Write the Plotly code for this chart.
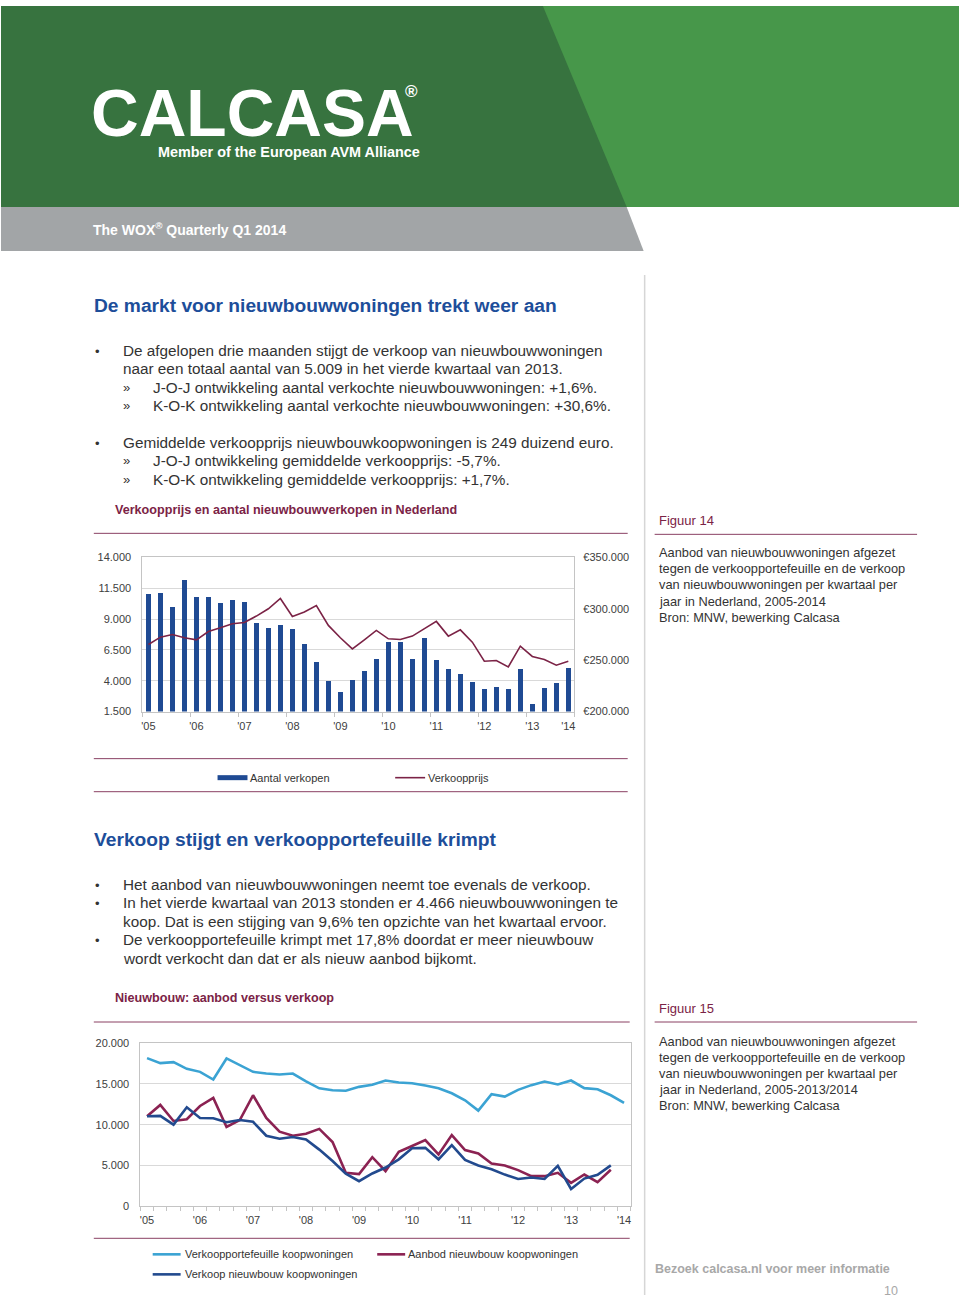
import plotly.graph_objects as go

W, H = 960, 1301
# the photographed page shows a small vertical offset/compression; compensate for it
Y_OFF, Y_SCALE = 6.4, 0.9894
def X(px): return px / W
def Y(py): return 1 - ((py - Y_OFF) / Y_SCALE) / H

FONT = "Liberation Sans, Arial, sans-serif"

# ---------------- data ----------------
year_labels = ["'05", "'06", "'07", "'08", "'09", "'10", "'11", "'12", "'13", "'14"]

# aantal verkopen per kwartaal, 2005 K1 .. 2013 K4
verkopen = [11030, 11080, 10000, 12130, 10810, 10780, 10300, 10560,
            10350, 8640, 8270, 8480, 8190, 6940, 5540, 3990,
            3070, 4020, 4750, 5750, 7100, 7160, 5750, 7480,
            5670, 4990, 4530, 3880, 3340, 3530, 3340, 4960,
            2120, 3390, 3850, 5009]

# gemiddelde verkoopprijs, 2005 K1 .. 2013 K4
verkoopprijs = [265300, 272400, 275000, 271800, 269800, 277900, 281500, 285400,
                286700, 292900, 300000, 310000, 292500, 296800, 303200, 283800,
                271800, 261000, 269800, 278900, 270800, 270100, 273400, 280500,
                287700, 273400, 279500, 267500, 249000, 249700, 243500, 263600,
                253600, 250600, 245100, 249000]

# verkoopportefeuille koopwoningen, 2005 K1 .. 2014 K1
portefeuille = [18150, 17540, 17660, 16840, 16470, 15530, 18110, 17290,
                16470, 16270, 16150, 16260, 15300, 14450, 14220, 14160,
                14630, 14880, 15410, 15160, 15080, 14790, 14470, 13850,
                12990, 11720, 13730, 13440, 14260, 14840, 15290, 14920,
                15410, 14470, 14340, 13600, 12660]

# aanbod nieuwbouw koopwoningen, 2005 K1 .. 2013 K4
aanbod = [11020, 12420, 10450, 10660, 12290, 13280, 9710, 10570,
          13600, 10820, 9140, 8650, 8880, 9480, 7870, 4100,
          3950, 6020, 4300, 6680, 7380, 8110, 6350, 8730,
          6890, 6480, 5250, 5000, 4430, 3690, 3690, 4100,
          2870, 3890, 2950, 4466]

left1_vals = [1500, 4000, 6500, 9000, 11500, 14000]
left1_text = ["1.500", "4.000", "6.500", "9.000", "11.500", "14.000"]
right1_vals = [200000, 250000, 300000, 350000]
right1_text = ["€200.000", "€250.000", "€300.000", "€350.000"]
left2_vals = [0, 5000, 10000, 15000, 20000]
left2_text = ["0", "5.000", "10.000", "15.000", "20.000"]

# ---------------- colours ----------------
BAR_BLUE = "#1F4A93"
PURPLE = "#7B2346"
LIGHT_BLUE = "#3BA3D3"
RED = "#8B2252"
DARK_BLUE = "#224A8E"
TXT = "#333333"
HEAD_BLUE = "#1D4E9A"
GRID = "#D9D9D9"
BORDER = "#C4C4C4"

x1 = [i + 0.5 for i in range(len(verkopen))]
x2 = [i + 0.5 for i in range(len(portefeuille))]

fig = go.Figure()
fig.add_trace(go.Bar(x=x1, y=verkopen, width=0.45, marker=dict(color=BAR_BLUE, line=dict(width=0)),
                     name="Aantal verkopen", xaxis="x", yaxis="y"))
fig.add_trace(go.Scatter(x=x1, y=verkoopprijs, mode="lines", line=dict(color=PURPLE, width=1.6),
                         name="Verkoopprijs", xaxis="x", yaxis="y2"))
fig.add_trace(go.Scatter(x=x2, y=portefeuille, mode="lines", line=dict(color=LIGHT_BLUE, width=2.6),
                         name="Verkoopportefeuille koopwoningen", xaxis="x2", yaxis="y3"))
fig.add_trace(go.Scatter(x=x2[:len(aanbod)], y=aanbod, mode="lines", line=dict(color=RED, width=2.6),
                         name="Aanbod nieuwbouw koopwoningen", xaxis="x2", yaxis="y3"))
fig.add_trace(go.Scatter(x=x2[:len(verkopen)], y=verkopen, mode="lines", line=dict(color=DARK_BLUE, width=2.6),
                         name="Verkoop nieuwbouw koopwoningen", xaxis="x2", yaxis="y3"))

tickfont = dict(family=FONT, size=11, color="#404040")

fig.update_layout(
    width=W, height=H, margin=dict(l=0, r=0, t=0, b=0),
    paper_bgcolor="white", plot_bgcolor="white", showlegend=False,
    font=dict(family=FONT, color=TXT),
    bargap=0,
    xaxis=dict(domain=[X(141.7), X(574.5)], range=[0, 36], anchor="y",
               tickvals=[0.5, 4.5, 8.5, 12.5, 16.5, 20.5, 24.5, 28.5, 32.5, 35.5],
               ticktext=year_labels, ticks="", showgrid=False, zeroline=False,
               showline=True, mirror=True, linecolor=BORDER, linewidth=1,
               minor=dict(tickvals=list(range(0, 37, 4)), ticks="outside", ticklen=4,
                          tickcolor=BORDER, showgrid=False),
               tickfont=tickfont, ticklabelstandoff=4),
    yaxis=dict(domain=[Y(711), Y(557)], range=[1500, 14000], anchor="x",
               tickvals=left1_vals, ticktext=left1_text, ticks="",
               showgrid=True, gridcolor=GRID, zeroline=False,
               showline=True, mirror=True, linecolor=BORDER, linewidth=1,
               tickfont=tickfont, ticklabelstandoff=8),
    yaxis2=dict(overlaying="y", side="right", anchor="x", range=[200000, 350000],
                tickvals=right1_vals, ticktext=right1_text, ticks="",
                showgrid=False, zeroline=False, showline=False,
                tickfont=tickfont, ticklabelstandoff=8),
    xaxis2=dict(domain=[X(139.7), X(631)], range=[0, 37], anchor="y3",
                tickvals=[0.5 + 4 * k for k in range(10)], ticktext=year_labels,
                ticks="", showgrid=False, zeroline=False,
                showline=True, mirror=True, linecolor=BORDER, linewidth=1,
                minor=dict(tickvals=list(range(0, 38)), ticks="outside", ticklen=4,
                           tickcolor=BORDER, showgrid=False),
                tickfont=tickfont, ticklabelstandoff=4),
    yaxis3=dict(domain=[Y(1205), Y(1042)], range=[0, 20000], anchor="x2",
                tickvals=left2_vals, ticktext=left2_text, ticks="",
                showgrid=True, gridcolor=GRID, zeroline=False,
                showline=True, mirror=True, linecolor=BORDER, linewidth=1,
                tickfont=tickfont, ticklabelstandoff=8),
)

shapes = []
def poly(pts, color):
    d = "M " + " L ".join(f"{X(px):.5f},{min(1.0, Y(py)):.5f}" for px, py in pts) + " Z"
    shapes.append(dict(type="path", path=d, xref="paper", yref="paper",
                       fillcolor=color, line=dict(width=0), layer="below"))
def hline(x0, x1_, y, color, width=1):
    shapes.append(dict(type="line", xref="paper", yref="paper", x0=X(x0), x1=X(x1_),
                       y0=Y(y), y1=Y(y), line=dict(color=color, width=width)))
def vline(x, y0, y1_, color, width=1):
    shapes.append(dict(type="line", xref="paper", yref="paper", x0=X(x), x1=X(x),
                       y0=Y(y0), y1=max(0.0, Y(y1_)), line=dict(color=color, width=width)))

# header (diagonal kept straight across the top edge)
poly([(0, 0), (960, 0), (960, 207), (0, 207)], "#37733F")
poly([(543, 0), (960, 0), (960, 207), (627, 207)], "#47974A")
poly([(0, 207), (627, 207), (644, 251), (0, 251)], "#A2A5A7")

# divider
vline(645, 275, 1320, "#D6D6D6", 1.5)

LINE_C = "#8A4063"
hline(93, 628, 533, LINE_C, 1)
hline(655, 918, 534, LINE_C, 1)
hline(93, 628, 758, LINE_C, 1)
hline(93, 628, 791, LINE_C, 1)
hline(93, 630, 1021, LINE_C, 1)
hline(655, 918, 1021, LINE_C, 1)
hline(93, 630, 1237, LINE_C, 1)

# legend swatches
shapes.append(dict(type="rect", xref="paper", yref="paper", x0=X(217), x1=X(247),
                   y0=Y(779.5), y1=Y(774.5), fillcolor=BAR_BLUE, line=dict(width=0)))
hline(395, 425, 777, PURPLE, 1.6)
hline(152, 180, 1253, LIGHT_BLUE, 2.6)
hline(377, 405, 1253, RED, 2.6)
hline(152, 180, 1273, DARK_BLUE, 2.6)

annotations = []
def txt(px, py, s, size, color=TXT, bold=False, xanchor="left"):
    if bold:
        s = f"<b>{s}</b>"
    annotations.append(dict(text=s, x=X(px), y=Y(py), xref="paper", yref="paper",
                            xanchor=xanchor, yanchor="middle", showarrow=False,
                            font=dict(family=FONT, size=size, color=color), borderpad=0))

# header texts
txt(89, 113, "CALCASA", 66, "white", bold=True)
txt(404, 92, "®", 17, "white", bold=True)
txt(156, 152, "Member of the European AVM Alliance", 14.4, "white", bold=True)
txt(91, 229, "The WOX<sup>®</sup> Quarterly Q1 2014", 14, "white", bold=True)

# section 1
txt(92, 305, "De markt voor nieuwbouwwoningen trekt weer aan", 19.2, HEAD_BLUE, bold=True)
BS = 15.3
txt(93, 351, "•", 13)
txt(121, 350, "De afgelopen drie maanden stijgt de verkoop van nieuwbouwwoningen", BS)
txt(121, 368, "naar een totaal aantal van 5.009 in het vierde kwartaal van 2013.", BS)
txt(121, 387, "»", 13)
txt(151, 387, "J-O-J ontwikkeling aantal verkochte nieuwbouwwoningen: +1,6%.", BS)
txt(121, 405, "»", 13)
txt(151, 405, "K-O-K ontwikkeling aantal verkochte nieuwbouwwoningen: +30,6%.", BS)
txt(93, 443, "•", 13)
txt(121, 442, "Gemiddelde verkoopprijs nieuwbouwkoopwoningen is 249 duizend euro.", BS)
txt(121, 460, "»", 13)
txt(151, 460, "J-O-J ontwikkeling gemiddelde verkoopprijs: -5,7%.", BS)
txt(121, 479, "»", 13)
txt(151, 479, "K-O-K ontwikkeling gemiddelde verkoopprijs: +1,7%.", BS)

txt(113, 510, "Verkoopprijs en aantal nieuwbouwverkopen in Nederland", 12.6, PURPLE, bold=True)
txt(658, 520, "Figuur 14", 13, PURPLE)
side1 = ["Aanbod van nieuwbouwwoningen afgezet",
         "tegen de verkoopportefeuille en de verkoop",
         "van nieuwbouwwoningen per kwartaal per",
         "jaar in Nederland, 2005-2014",
         "Bron: MNW, bewerking Calcasa"]
for k, s in enumerate(side1):
    txt(658, 552 + 16.2 * k, s, 12.8)

txt(249, 777, "Aantal verkopen", 11)
txt(427, 777, "Verkoopprijs", 11)

# section 2
txt(92, 839, "Verkoop stijgt en verkoopportefeuille krimpt", 19.2, HEAD_BLUE, bold=True)
txt(93, 885, "•", 13)
txt(121, 884, "Het aanbod van nieuwbouwwoningen neemt toe evenals de verkoop.", BS)
txt(93, 903, "•", 13)
txt(121, 902, "In het vierde kwartaal van 2013 stonden er 4.466 nieuwbouwwoningen te", BS)
txt(121, 921, "koop. Dat is een stijging van 9,6% ten opzichte van het kwartaal ervoor.", BS)
txt(93, 940, "•", 13)
txt(121, 939, "De verkoopportefeuille krimpt met 17,8% doordat er meer nieuwbouw", BS)
txt(121, 958, "wordt verkocht dan dat er als nieuw aanbod bijkomt.", BS)

txt(113, 997, "Nieuwbouw: aanbod versus verkoop", 12.6, PURPLE, bold=True)
txt(658, 1008, "Figuur 15", 13, PURPLE)
side2 = ["Aanbod van nieuwbouwwoningen afgezet",
         "tegen de verkoopportefeuille en de verkoop",
         "van nieuwbouwwoningen per kwartaal per",
         "jaar in Nederland, 2005-2013/2014",
         "Bron: MNW, bewerking Calcasa"]
for k, s in enumerate(side2):
    txt(658, 1040 + 16.2 * k, s, 12.8)

txt(183, 1253, "Verkoopportefeuille koopwoningen", 11)
txt(407, 1253, "Aanbod nieuwbouw koopwoningen", 11)
txt(183, 1273, "Verkoop nieuwbouw koopwoningen", 11)

txt(654, 1268, "Bezoek calcasa.nl voor meer informatie", 12.5, "#A8A8A8", bold=True)
txt(884, 1290, "10", 12.5, "#A8A8A8")

fig.update_layout(shapes=shapes, annotations=annotations)
fig.write_html(
    "out.html",
    config={"displayModeBar": False, "staticPlot": True},
    post_script=("var d=document.getElementById('{plot_id}');"
                 "d.style.position='fixed';d.style.left='0px';d.style.top='0px';"
                 "document.body.style.margin='0';document.body.style.padding='0';"
                 "document.documentElement.style.overflow='hidden';"
                 "document.body.style.overflow='hidden';"),
)
